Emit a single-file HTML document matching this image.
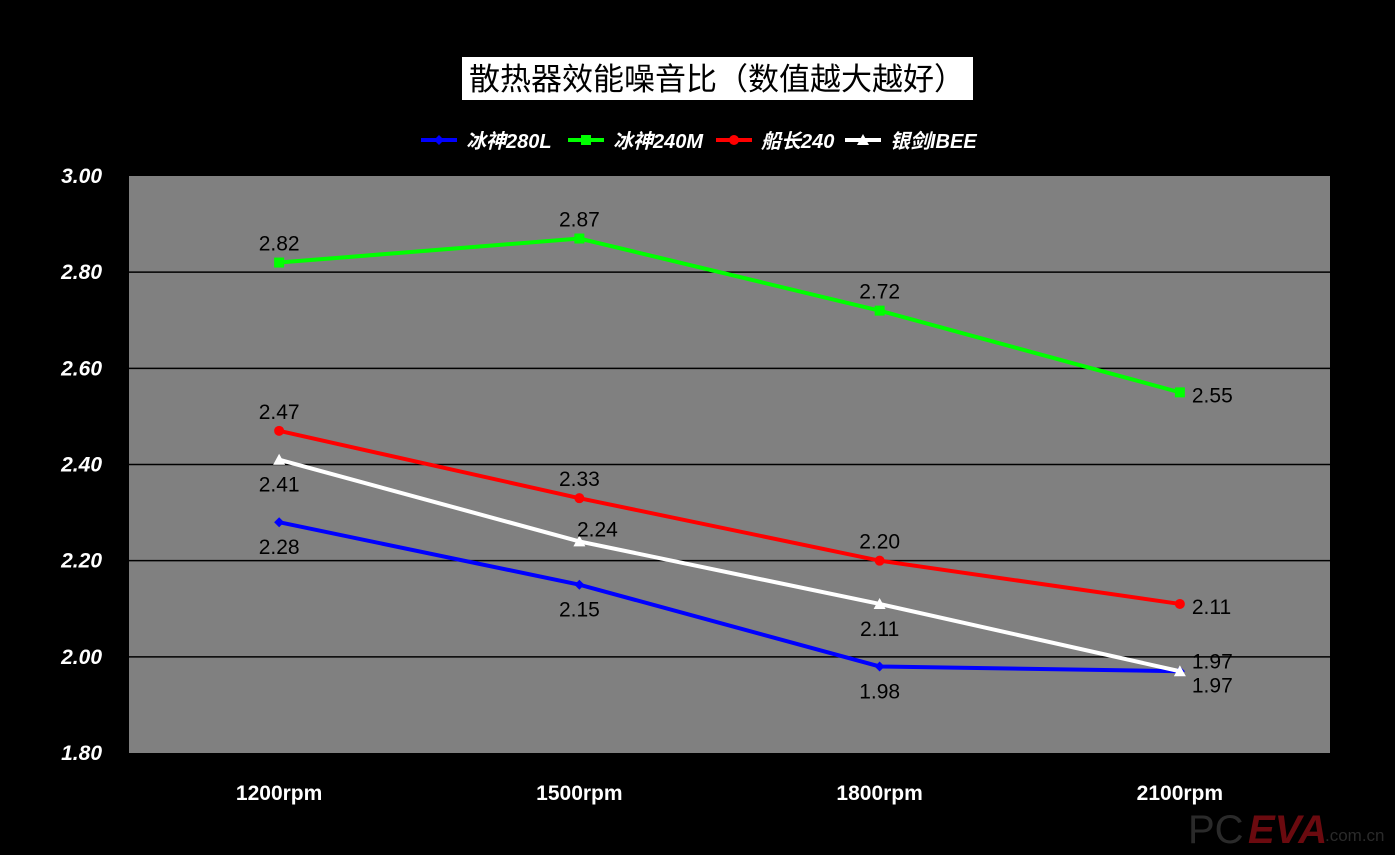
<!DOCTYPE html>
<html><head><meta charset="utf-8"><style>
body{margin:0;background:#000;width:1395px;height:850px;overflow:hidden;font-family:"Liberation Sans","Noto Sans CJK SC",sans-serif}
</style></head><body>
<svg id="c" width="1395" height="850" xmlns="http://www.w3.org/2000/svg">
<rect x="462" y="57" width="511" height="43" fill="#fff"/>
<text x="717" y="90" text-anchor="middle" font-size="31" fill="#000" font-family="Liberation Sans,Noto Sans CJK SC,sans-serif">散热器效能噪音比（数值越大越好）</text>
<rect x="129" y="176" width="1201" height="577" fill="#808080"/>
<g id="grid"></g><g id="ax"></g><g id="series"></g><g id="legend"></g>
<text x="1188" y="843" font-size="40" fill="#2a2a2a" font-family="Liberation Sans,sans-serif">PC</text>
<text x="1248" y="843" font-size="40" font-weight="bold" font-style="italic" fill="#6b0a0f" font-family="Liberation Sans,sans-serif">EVA</text>
<text x="1325" y="841" font-size="17" fill="#2a2a2a" font-family="Liberation Sans,sans-serif">.com.cn</text>
</svg>
<script>
const categories=["1200rpm","1500rpm","1800rpm","2100rpm"];
const yTicks=[1.8,2.0,2.2,2.4,2.6,2.8,3.0];
const seriesNames=["冰神280L","冰神240M","船长240","银剑IBEE"];
const s280L=[2.28,2.15,1.98,1.97];
const s240M=[2.82,2.87,2.72,2.55];
const sCaptain=[2.47,2.33,2.20,2.11];
const sIBEE=[2.41,2.24,2.11,1.97];
const NS="http://www.w3.org/2000/svg";
const X0=129,W=1201,Y0=753,Y1=176,YMIN=1.8,YMAX=3.0;
const xs=i=>X0+W/categories.length*(i+0.5);
const ys=v=>Y0-(v-YMIN)/(YMAX-YMIN)*(Y0-Y1);
function mk(t,a,p){const e=document.createElementNS(NS,t);for(const k in a)e.setAttribute(k,a[k]);p.appendChild(e);return e;}
const grid=document.getElementById('grid'),ax=document.getElementById('ax');
yTicks.forEach(v=>{
 if(v>YMIN&&v<YMAX){const l=mk('line',{x1:X0,x2:X0+W,y1:ys(v),y2:ys(v),stroke:'#000','stroke-width':1.5},grid);
 
 }
 const t=mk('text',{x:102,y:ys(v)+7,'text-anchor':'end','font-size':21,'font-weight':'bold','font-style':'italic',fill:'#fff'},ax);
 t.textContent=v.toFixed(2);
 
 
});
categories.forEach((c,i)=>{
 const t=mk('text',{x:xs(i),y:800,'text-anchor':'middle','font-size':21,'font-weight':'bold',fill:'#fff'},ax);
 t.textContent=c;
 
 
});
const defs=[
 {d:s280L,col:'#0000ff',m:'diamond',lab:['below','below','below','belowright']},
 {d:s240M,col:'#00ff00',m:'square',lab:['above','above','above','right']},
 {d:sCaptain,col:'#ff0000',m:'circle',lab:['above','above','above','right']},
 {d:sIBEE,col:'#ffffff',m:'triangle',lab:['below','aboveright','below','aboveright']}];
const sg=document.getElementById('series');
function marker(g,m,x,y,col){
 let e;
 if(m==='diamond')e=mk('polygon',{points:`${x},${y-5} ${x+5},${y} ${x},${y+5} ${x-5},${y}`,fill:col},g);
 else if(m==='square')e=mk('rect',{x:x-5,y:y-5,width:10,height:10,fill:col},g);
 else if(m==='circle')e=mk('circle',{cx:x,cy:y,r:5,fill:col},g);
 else e=mk('polygon',{points:`${x},${y-6} ${x+6},${y+5} ${x-6},${y+5}`,fill:col},g);
 return e;
}
defs.forEach((s,si)=>{
 const g=mk('g',{},sg);
 
 
 const pl=mk('polyline',{points:s.d.map((v,i)=>xs(i)+','+ys(v)).join(' '),fill:'none',stroke:s.col,'stroke-width':4},g);
 
 
 s.d.forEach((v,i)=>{
  const x=xs(i),y=ys(v);
  const mm=marker(g,s.m,x,y,s.col);
  
  
  let tx=x,ty=y,an='middle';const p=s.lab[i];
  if(p==='above')ty=y-12;else if(p==='below')ty=y+32;
  else if(p==='right'){tx=x+12;ty=y+10;an='start';}
  else if(p==='aboveright'){tx=x+18;ty=y-5;an='middle';if(i===3){tx=x+12;an='start';ty=y-3;}}
  else if(p==='belowright'){tx=x+12;ty=y+21;an='start';}
  const t=mk('text',{x:tx,y:ty,'text-anchor':an,'font-size':21,fill:'#000'},g);
  t.textContent=v.toFixed(2);
  
  
 });
});
const lg=document.getElementById('legend');
const lx=[421,568,716,845];
defs.forEach((s,si)=>{
 const g=mk('g',{},lg);
 
 
 mk('line',{x1:lx[si],x2:lx[si]+36,y1:140,y2:140,stroke:s.col,'stroke-width':4},g);
 marker(g,s.m,lx[si]+18,140,s.col);
 const t=mk('text',{x:lx[si]+45,y:148,'font-size':20,'font-weight':'bold','font-style':'italic',fill:'#fff'},g);
 t.textContent=seriesNames[si];
});
</script>
</body></html>
